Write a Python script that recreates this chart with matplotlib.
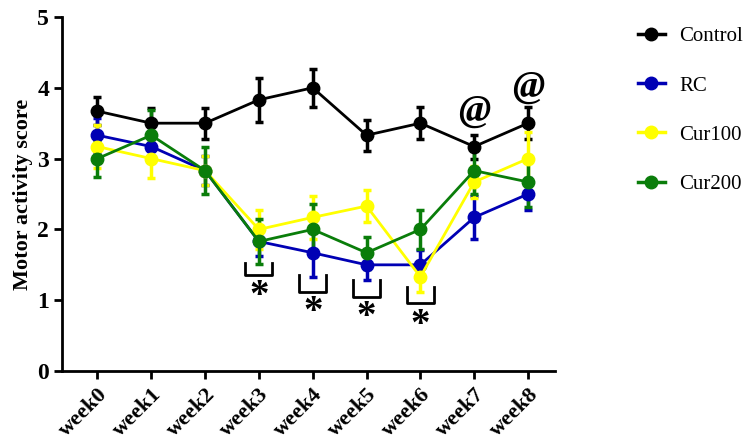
import numpy as np
import matplotlib
matplotlib.use('Agg')
import matplotlib.pyplot as plt
from matplotlib.lines import Line2D

weeks = ['week0', 'week1', 'week2', 'week3', 'week4', 'week5', 'week6', 'week7', 'week8']

control = [3.67, 3.5, 3.5, 3.83, 4.0, 3.33, 3.5, 3.17, 3.5]
control_err = [0.2, 0.22, 0.22, 0.31, 0.27, 0.22, 0.23, 0.17, 0.23]

rc = [3.33, 3.17, 2.83, 1.83, 1.67, 1.5, 1.5, 2.17, 2.5]
rc_err = [0.25, 0.2, 0.2, 0.2, 0.34, 0.21, 0.21, 0.3, 0.23]

cur100 = [3.17, 3.0, 2.83, 2.0, 2.17, 2.33, 1.33, 2.67, 3.0]
cur100_err = [0.3, 0.27, 0.2, 0.27, 0.3, 0.22, 0.22, 0.22, 0.38]

cur200 = [3.0, 3.33, 2.83, 1.83, 2.0, 1.67, 2.0, 2.83, 2.67]
cur200_err = [0.26, 0.35, 0.33, 0.32, 0.36, 0.23, 0.27, 0.33, 0.36]

# significance marks: (week index, bracket top, bracket bottom, star y)
star_marks = [(3, 1.53, 1.36, 1.19), (4, 1.36, 1.12, 0.96),
              (5, 1.29, 1.05, 0.89), (6, 1.19, 0.96, 0.79)]
at_marks = [(7, 3.66), (8, 4.0)]

plt.rcParams['font.family'] = ['Liberation Serif', 'DejaVu Serif']

fig = plt.figure(figsize=(7.52, 4.46), dpi=100)
ax = fig.add_axes([0.083, 0.168, 0.655, 0.794])

x = np.arange(len(weeks))
series = [('Control', control, control_err, 'black'),
          ('RC', rc, rc_err, '#0000b4'),
          ('Cur100', cur100, cur100_err, '#ffff00'),
          ('Cur200', cur200, cur200_err, '#0a7d0a')]

handles = []
for name, vals, errs, col in series:
    ax.errorbar(x, vals, yerr=errs, color=col, marker='o', markersize=9,
                linewidth=2, elinewidth=2.5, capsize=3, capthick=2.5)
    handles.append(Line2D([], [], color=col, marker='o', markersize=9,
                          linewidth=2.5, label=name))

for i, top, bottom, sy in star_marks:
    ax.plot([i - 0.25, i - 0.25, i + 0.25, i + 0.25], [top, bottom, bottom, top],
            color='black', linewidth=2)
    ax.text(i, sy - 0.14, '*', ha='center', va='center', fontsize=28, fontweight='bold')

for i, ay in at_marks:
    ax.text(i, ay, '@', ha='center', va='center', fontsize=28,
            fontweight='bold', style='italic')

ax.set_xlim(-0.65, 8.5)
ax.set_ylim(0, 5)
ax.set_yticks([0, 1, 2, 3, 4, 5])
ax.set_xticks(x)
ax.set_xticklabels(weeks, rotation=45, ha='right', rotation_mode='anchor')
for lab in ax.get_xticklabels():
    lab.set_fontweight('bold')
    lab.set_fontsize(16)
for lab in ax.get_yticklabels():
    lab.set_fontweight('bold')
    lab.set_fontsize(17)
ax.set_ylabel('Motor activity score', fontsize=16, fontweight='bold', labelpad=3)

ax.spines['top'].set_visible(False)
ax.spines['right'].set_visible(False)
ax.spines['left'].set_linewidth(2)
ax.spines['bottom'].set_linewidth(2)
ax.tick_params(width=2, length=6)

ax.legend(handles=handles, loc='upper left', bbox_to_anchor=(1.13, 1.025), frameon=False,
          fontsize=15, labelspacing=1.42, handlelength=1.3, handletextpad=0.7)

fig.savefig('out.png', dpi=100)
